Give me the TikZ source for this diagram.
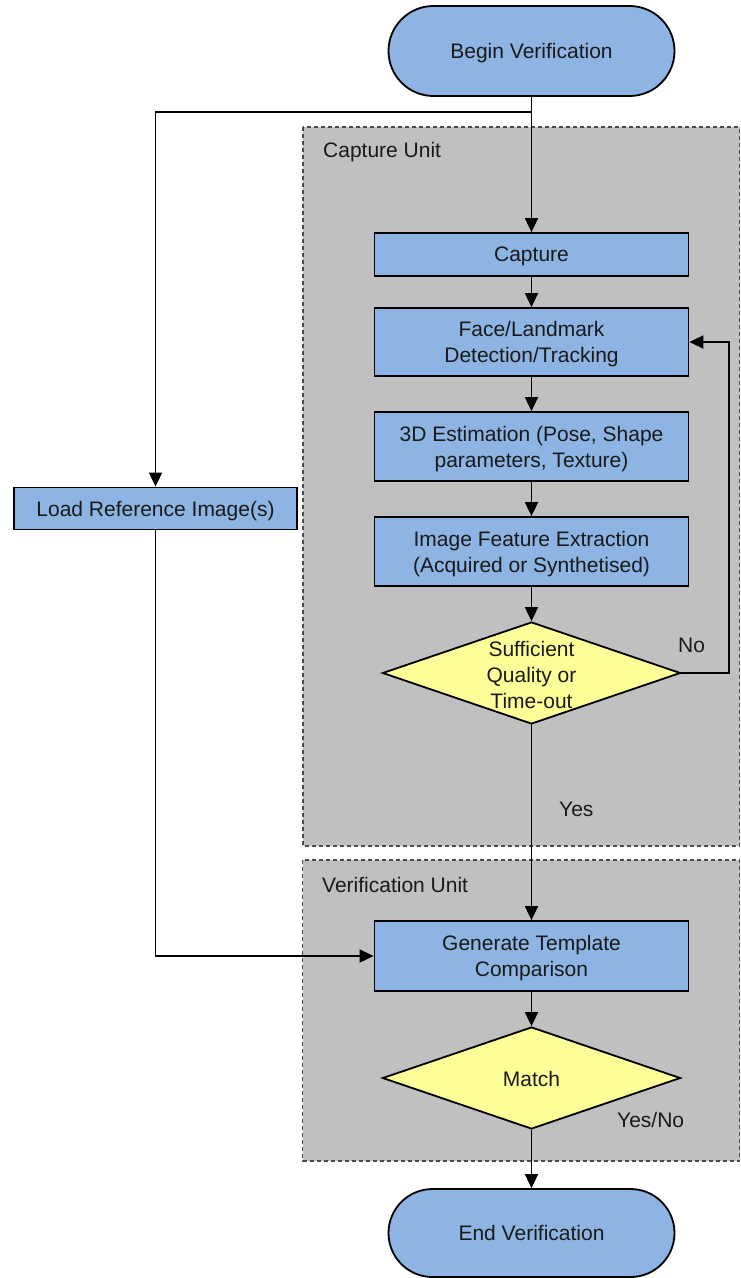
\documentclass[tikz,border=0pt]{standalone}
\usepackage{fontspec}
\setmainfont{Liberation Sans}
\usetikzlibrary{shapes.geometric,shapes.misc,arrows.meta}
\definecolor{boxblue}{HTML}{8DB4E2}
\definecolor{decyellow}{HTML}{FFFF99}
\definecolor{unitgray}{HTML}{C0C0C0}
\definecolor{txt}{HTML}{1A1A1A}
\begin{document}
\begin{tikzpicture}[x=1pt,y=1pt,
  every node/.style={font=\fontsize{21}{26}\selectfont, text=txt},
  unitbox/.style={draw=black!70, line width=1.1pt, dash pattern=on 4pt off 3pt, fill=unitgray},
  proc/.style={draw=black, line width=1.8pt, fill=boxblue, minimum width=314pt, align=center, inner sep=0pt, text depth=0pt},
  term/.style={rounded rectangle, draw=black, line width=1.8pt, fill=boxblue, minimum width=286pt, inner sep=0pt, text depth=0pt},
  decision/.style={diamond, draw=black, line width=1.8pt, fill=decyellow, minimum width=298pt, minimum height=102pt, inner sep=0pt},
  arr/.style={draw=black, line width=1.8pt, -{Triangle[length=14pt,width=13pt]}},
  lbl/.style={anchor=base west, inner sep=0pt}
]
\useasboundingbox (0,0) rectangle (740,-1278);
\fill[white] (0,0) rectangle (740,-1278);

% unit containers
\draw[unitbox] (303,-127) rectangle (739.5,-846);
\draw[unitbox] (302.5,-860) rectangle (739.5,-1161);
\node[lbl] (capunit) at (323,-157) {Capture Unit};
\node[lbl] (verunit) at (322,-892) {Verification Unit};

% nodes
\node[term, minimum height=90pt] (begin) at (531.5,-51) {Begin Verification};
\node[proc, minimum height=43pt] (capture) at (531.5,-254.5) {Capture};
\node[proc, minimum height=68pt] (face) at (531.5,-342) {Face/Landmark\\Detection/Tracking};
\node[proc, minimum height=69pt] (est) at (531.5,-446.5) {3D Estimation (Pose, Shape\\parameters, Texture)};
\node[proc, minimum height=69pt] (feat) at (531.5,-551.5) {Image Feature Extraction\\(Acquired or Synthetised)};
\node[decision] (qual) at (531.5,-673) {};
\node[align=center, inner sep=0pt, text depth=0pt] (qualtxt) at (531.5,-675) {Sufficient\\Quality or\\Time-out};
\node[proc, minimum width=283pt, minimum height=42pt] (load) at (155.5,-508.5) {Load Reference Image(s)};
\node[proc, minimum height=70pt] (gen) at (531.5,-956) {Generate Template\\Comparison};
\node[decision] (match) at (531.5,-1078) {};
\node[inner sep=0pt, text depth=0pt] (matchtxt) at (531.5,-1079) {Match};
\node[term, minimum height=88pt] (end) at (531.5,-1233) {End Verification};

% labels
\node[lbl] (nolbl) at (678,-652) {No};
\node[lbl] (yeslbl) at (559,-816) {Yes};
\node[lbl] (ynlbl) at (617,-1127) {Yes/No};

% connectors
\coordinate (split) at (531.5,-112);
\coordinate (loopc) at (729,-673);
\draw[arr] (begin.south) -- (capture.north);
\draw[arr] (split) -| (load.north);
\draw[arr] (capture.south) -- (face.north);
\draw[arr] (face.south) -- (est.north);
\draw[arr] (est.south) -- (feat.north);
\draw[arr] (feat.south) -- (qual.north);
\draw[arr] (qual.east) -- (loopc) |- (face.east);
\draw[arr] (qual.south) -- (gen.north);
\draw[arr] (load.south) |- (gen.west);
\draw[arr] (gen.south) -- (match.north);
\draw[arr] (match.south) -- (end.north);
\end{tikzpicture}
\end{document}
